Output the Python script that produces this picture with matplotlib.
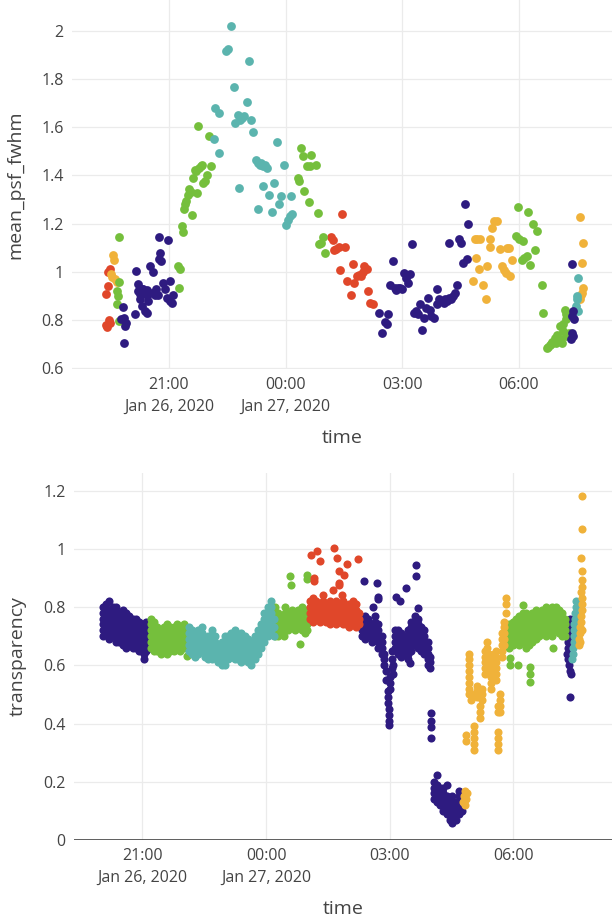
import numpy as np
import pandas as pd
import matplotlib
matplotlib.use("Agg")
import matplotlib.pyplot as plt

plt.rcParams['font.family'] = ['Open Sans', 'DejaVu Sans']

# colours of the five groups
indigo = "#2e1b80"
green = "#75bf3c"
teal = "#5bb4ae"
red = "#e0472a"
orange = "#f0b23a"

# ---- top panel: mean_psf_fwhm, time = hours after Jan 26 2020 00:00 ----
fw_red_t = [19.39, 19.43, 19.44, 19.48, 19.38, 19.42, 19.46, 19.50,
            25.17, 25.21, 25.24, 25.29, 25.37, 25.39, 25.46, 25.52, 25.59, 25.67, 25.74,
            25.77, 25.84, 25.89, 25.94, 25.99, 26.02, 26.09, 26.12, 26.18, 26.25]
fw_red_v = [0.91, 0.94, 1.00, 1.01, 0.78, 0.77, 0.80, 0.79,
            1.145, 1.134, 1.09, 1.093, 1.104, 1.006, 1.24, 1.104, 0.962, 0.906, 1.031,
            0.952, 0.985, 0.989, 0.982, 0.999, 1.024, 1.013, 0.92, 0.869, 0.865]

fw_orange_t = [19.56, 19.59, 19.54, 19.61, 19.66, 19.51,
               28.81, 28.86, 28.93, 29.01, 28.89, 28.96, 29.08, 29.14, 29.19, 29.26, 29.31,
               29.36, 29.43, 29.26, 29.51, 29.56, 29.61, 29.66, 29.69, 29.74, 29.76, 29.81,
               31.58, 31.65, 31.63, 31.64, 31.62, 31.57, 31.60]
fw_orange_v = [1.07, 1.05, 0.98, 0.97, 0.96, 0.99,
               0.962, 1.137, 1.137, 1.137, 1.058, 1.01, 0.944, 0.889, 1.024, 1.137, 1.183,
               1.21, 1.21, 1.104, 1.093, 1.024, 1.007, 0.996, 1.10, 1.10, 0.985, 1.051,
               1.227, 1.12, 1.038, 0.934, 0.913, 0.886, 0.906]

fw_green_t = [19.71, 19.73, 19.68, 19.70, 19.66, 19.73,
              21.27, 21.24, 21.29, 21.34, 21.37, 21.40, 21.42, 21.45, 21.49, 21.52, 21.57,
              21.60, 21.62, 21.67, 21.72, 21.77, 21.82, 21.85, 21.87, 21.92, 21.97, 22.03,
              22.08, 21.74, 21.70,
              24.31, 24.34, 24.39, 24.44, 24.47, 24.54, 24.59, 24.62, 24.66, 24.79, 24.84,
              24.87, 24.91, 24.97, 25.01,
              29.93, 29.98, 30.01, 30.10, 30.07, 30.14, 30.20, 30.24, 30.28, 30.35, 30.41,
              30.47, 30.58, 30.62, 30.71, 30.79, 30.86, 30.92, 30.98, 31.05, 31.12, 31.18,
              31.22, 31.22, 31.14, 31.22, 31.29, 31.05, 30.96, 31.10, 30.75, 30.83]
fw_green_v = [1.145, 0.957, 0.92, 0.90, 0.865, 0.795,
              0.934, 1.024, 1.013, 1.19, 1.166, 1.261, 1.283, 1.293, 1.317, 1.344, 1.33,
              1.238, 1.39, 1.424, 1.328, 1.431, 1.438, 1.445, 1.369, 1.376, 1.403, 1.565,
              1.438, 1.604, 1.42,
              1.39, 1.376, 1.514, 1.48, 1.334, 1.438, 1.289, 1.438, 1.486, 1.442, 1.245,
              1.114, 1.12, 1.145, 1.079,
              1.148, 1.27, 1.137, 1.13, 1.05, 1.058, 1.065, 1.25, 1.027, 1.20, 1.09,
              1.169, 0.944, 0.828, 0.686, 0.695, 0.709, 0.727, 0.737, 0.775, 0.783, 0.844,
              0.824, 0.803, 0.754, 0.733, 0.745, 0.72, 0.707, 0.706, 0.69, 0.70]

fw_teal_t = [22.15, 22.28, 22.18, 22.28, 22.48, 22.53, 22.60, 22.68, 22.71, 22.78, 22.83,
             22.88, 22.93, 23.00, 23.05, 23.11, 23.16, 22.81, 23.23, 23.28, 23.33, 23.38,
             23.43, 23.48, 23.53, 23.30, 23.41, 23.58, 23.65, 23.71, 23.78, 23.83, 23.88,
             23.95, 24.02, 24.06, 24.11, 24.17, 24.14,
             31.52, 31.48, 31.50, 31.47, 31.52]
fw_teal_v = [1.55, 1.493, 1.68, 1.66, 1.918, 1.925, 2.022, 1.767, 1.617, 1.652, 1.63,
             1.638, 1.645, 1.703, 1.873, 1.631, 1.579, 1.348, 1.466, 1.45, 1.445, 1.452,
             1.438, 1.445, 1.431, 1.259, 1.355, 1.32, 1.25, 1.37, 1.537, 1.28, 1.315,
             1.442, 1.196, 1.217, 1.23, 1.24, 1.315,
             0.973, 0.90, 0.886, 0.858, 0.837]

fw_indigo_t = [20.74, 20.98, 20.77, 20.74, 20.81, 20.51, 20.60, 20.15, 20.21, 20.34, 20.30,
               20.43, 20.56, 20.67, 20.73, 20.85, 20.90, 21.04, 21.11, 20.96, 21.04, 21.09,
               20.25, 20.30, 20.43, 20.38, 20.13, 19.83, 19.85, 19.89, 19.87, 19.78, 19.85,
               20.47, 20.64, 20.20, 20.25, 20.45,
               26.40, 26.48, 26.55, 26.60, 26.63, 26.75, 26.68, 26.80, 26.85, 26.90, 26.95,
               27.00, 27.05, 27.10, 27.15, 27.20, 27.25, 27.30, 27.35, 27.40, 27.45, 27.50,
               27.55, 27.60, 27.65, 27.70, 27.75, 27.82, 27.88, 27.90, 27.95, 28.00, 28.06,
               28.11, 28.16, 28.21, 28.26, 28.31, 28.36, 28.41, 28.21, 28.46, 28.51, 28.56,
               28.61, 28.66, 28.69,
               31.35, 31.38, 31.35, 31.35, 31.38, 31.34, 31.42]
fw_indigo_v = [1.144, 1.131, 1.079, 1.054, 1.044, 1.026, 1.00, 1.003, 0.95, 0.927, 0.93,
               0.924, 0.913, 0.927, 0.906, 0.952, 0.93, 0.964, 0.906, 0.893, 0.879, 0.869,
               0.886, 0.858, 0.831, 0.837, 0.824, 0.854, 0.81, 0.789, 0.775, 0.803, 0.704,
               0.879, 0.906, 0.92, 0.91, 0.905,
               0.828, 0.748, 0.792, 0.782, 0.824, 1.045, 0.944, 0.934, 0.924, 0.934, 0.934,
               0.927, 0.996, 0.976, 0.955, 0.993, 1.114, 0.83, 0.837, 0.824, 0.865, 0.757,
               0.81, 0.851, 0.893, 0.844, 0.817, 0.81, 0.927, 0.865, 0.886, 0.879, 0.872,
               0.886, 0.879, 0.893, 0.886, 0.90, 0.913, 0.944, 1.12, 1.137, 1.12, 1.038,
               1.28, 1.054, 1.20,
               1.031, 0.837, 0.817, 0.748, 0.734, 0.72, 0.806]

# ---- bottom panel: transparency, read column by column as (hour, [values]) ----
tr_indigo = [
    (20.05, [0.70, 0.72, 0.74, 0.76, 0.78, 0.80]),
    (20.12, [0.71, 0.73, 0.75, 0.77, 0.79, 0.81]),
    (20.20, [0.69, 0.71, 0.73, 0.75, 0.77, 0.79, 0.82]),
    (20.28, [0.70, 0.72, 0.74, 0.76, 0.78, 0.80]),
    (20.36, [0.68, 0.70, 0.72, 0.74, 0.76, 0.78, 0.80]),
    (20.44, [0.68, 0.70, 0.72, 0.74, 0.76, 0.78]),
    (20.52, [0.67, 0.69, 0.71, 0.73, 0.75, 0.77, 0.79]),
    (20.60, [0.66, 0.68, 0.70, 0.72, 0.74, 0.76, 0.78]),
    (20.68, [0.67, 0.69, 0.71, 0.73, 0.75, 0.77]),
    (20.76, [0.66, 0.68, 0.70, 0.72, 0.74, 0.76]),
    (20.84, [0.66, 0.68, 0.70, 0.72, 0.74, 0.76]),
    (20.92, [0.65, 0.67, 0.69, 0.71, 0.73, 0.75]),
    (21.00, [0.66, 0.68, 0.70, 0.72, 0.74]),
    (21.05, [0.62, 0.64]),
    (21.08, [0.65, 0.67, 0.69, 0.71, 0.73, 0.75]),
    (21.15, [0.66, 0.68, 0.70, 0.72, 0.74]),
    (26.32, [0.70, 0.72, 0.74, 0.76]),
    (26.38, [0.888]),
    (26.40, [0.69, 0.71, 0.73, 0.75, 0.77]),
    (26.48, [0.70, 0.72, 0.74, 0.76]),
    (26.56, [0.68, 0.70, 0.72, 0.74]),
    (26.60, [0.80]),
    (26.64, [0.69, 0.71, 0.73, 0.75, 0.77]),
    (26.68, [0.882]),
    (26.71, [0.827, 0.836]),
    (26.72, [0.66, 0.68, 0.70, 0.72, 0.74]),
    (26.80, [0.64, 0.66, 0.68, 0.70]),
    (26.86, [0.60, 0.62, 0.64]),
    (26.92, [0.55, 0.58]),
    (26.95, [0.47, 0.49, 0.51]),
    (26.98, [0.395, 0.41, 0.43, 0.45]),
    (27.01, [0.52, 0.54, 0.56]),
    (27.05, [0.59, 0.62, 0.65]),
    (27.09, [0.57, 0.60]),
    (27.12, [0.66, 0.68, 0.70, 0.72]),
    (27.16, [0.836]),
    (27.20, [0.64, 0.66, 0.68, 0.70, 0.72]),
    (27.25, [0.819]),
    (27.28, [0.63, 0.65, 0.67, 0.69, 0.71]),
    (27.36, [0.64, 0.66, 0.68, 0.70]),
    (27.39, [0.865]),
    (27.44, [0.62, 0.64, 0.66, 0.68, 0.70, 0.72]),
    (27.49, [0.607]),
    (27.52, [0.65, 0.67, 0.69, 0.71, 0.73, 0.75]),
    (27.60, [0.67, 0.69, 0.71, 0.73, 0.75, 0.77]),
    (27.63, [0.905, 0.945]),
    (27.68, [0.66, 0.68, 0.70, 0.72, 0.74, 0.76, 0.796]),
    (27.76, [0.65, 0.67, 0.69, 0.71, 0.73]),
    (27.84, [0.64, 0.66, 0.68, 0.70, 0.72]),
    (27.92, [0.60, 0.62, 0.64, 0.66, 0.68]),
    (27.98, [0.59, 0.61, 0.63]),
    (28.01, [0.349, 0.389, 0.41, 0.435]),
    (28.08, [0.14, 0.16, 0.18, 0.20]),
    (28.15, [0.13, 0.15, 0.17, 0.19, 0.223]),
    (28.22, [0.12, 0.14, 0.16, 0.18]),
    (28.30, [0.10, 0.12, 0.14, 0.16, 0.18]),
    (28.38, [0.09, 0.11, 0.13, 0.15, 0.19]),
    (28.46, [0.07, 0.09, 0.11, 0.13]),
    (28.52, [0.06, 0.08, 0.10, 0.12, 0.15]),
    (28.60, [0.07, 0.09, 0.11, 0.13]),
    (28.68, [0.09, 0.11, 0.13, 0.15, 0.17]),
    (28.74, [0.10, 0.12, 0.14]),
    (31.30, [0.64]),
    (31.32, [0.62, 0.66, 0.68]),
    (31.34, [0.60, 0.70, 0.72]),
    (31.36, [0.74, 0.76]),
    (31.38, [0.49, 0.58]),
    (31.40, [0.57]),
]

tr_green = [
    (21.20, [0.66, 0.68, 0.70, 0.72, 0.74, 0.76]),
    (21.28, [0.65, 0.67, 0.69, 0.71, 0.73, 0.75]),
    (21.36, [0.65, 0.67, 0.69, 0.71, 0.73]),
    (21.44, [0.64, 0.66, 0.68, 0.70, 0.72]),
    (21.52, [0.65, 0.67, 0.69, 0.71, 0.73]),
    (21.60, [0.64, 0.66, 0.68, 0.70, 0.72, 0.74]),
    (21.68, [0.65, 0.67, 0.69, 0.71, 0.73]),
    (21.76, [0.65, 0.67, 0.69, 0.71, 0.73]),
    (21.84, [0.66, 0.68, 0.70, 0.72, 0.74]),
    (21.92, [0.65, 0.67, 0.69, 0.71, 0.73]),
    (22.00, [0.66, 0.68, 0.70, 0.72, 0.74]),
    (22.07, [0.632, 0.67, 0.69, 0.71]),
    (24.22, [0.70, 0.72, 0.74, 0.76, 0.78, 0.80]),
    (24.30, [0.70, 0.72, 0.74, 0.76, 0.78]),
    (24.38, [0.71, 0.73, 0.75, 0.77]),
    (24.44, [0.70]),
    (24.46, [0.72, 0.74, 0.76, 0.78, 0.80]),
    (24.54, [0.72, 0.74, 0.76, 0.78]),
    (24.58, [0.905]),
    (24.60, [0.876]),
    (24.62, [0.73, 0.75, 0.77, 0.79]),
    (24.70, [0.72, 0.74, 0.76, 0.78]),
    (24.78, [0.73, 0.75, 0.77, 0.79]),
    (24.82, [0.674]),
    (24.86, [0.72, 0.74, 0.76, 0.78, 0.80]),
    (24.94, [0.71, 0.73, 0.75, 0.77, 0.79]),
    (24.95, [0.72]),
    (24.99, [0.896, 0.91]),
    (25.00, [0.72, 0.74, 0.76]),
    (29.90, [0.66, 0.68, 0.70, 0.72, 0.74]),
    (29.92, [0.60, 0.625]),
    (29.98, [0.67, 0.69, 0.71, 0.73, 0.75]),
    (30.06, [0.68, 0.70, 0.72, 0.74, 0.76]),
    (30.12, [0.60]),
    (30.14, [0.67, 0.69, 0.71, 0.73, 0.75, 0.77]),
    (30.22, [0.68, 0.70, 0.72, 0.74, 0.76, 0.78]),
    (30.23, [0.808]),
    (30.30, [0.66, 0.68, 0.70, 0.72, 0.74, 0.78]),
    (30.38, [0.67, 0.69, 0.71, 0.73, 0.75, 0.77]),
    (30.40, [0.544, 0.57, 0.595]),
    (30.46, [0.68, 0.70, 0.72, 0.74, 0.76, 0.78]),
    (30.54, [0.69, 0.71, 0.73, 0.75, 0.77, 0.79]),
    (30.62, [0.70, 0.72, 0.74, 0.76, 0.78]),
    (30.70, [0.71, 0.73, 0.75, 0.77, 0.79]),
    (30.78, [0.70, 0.72, 0.74, 0.76, 0.78, 0.80]),
    (30.86, [0.71, 0.73, 0.75, 0.77, 0.79]),
    (30.94, [0.70, 0.72, 0.74, 0.76, 0.78, 0.80]),
    (30.97, [0.659]),
    (31.02, [0.72, 0.74, 0.76, 0.78, 0.80]),
    (31.10, [0.71, 0.73, 0.75, 0.77, 0.79]),
    (31.18, [0.70, 0.72, 0.74, 0.76, 0.78]),
    (31.26, [0.70, 0.72, 0.74, 0.76]),
]

tr_teal = [
    (22.12, [0.65, 0.67, 0.69, 0.71, 0.73]),
    (22.20, [0.64, 0.66, 0.68, 0.70, 0.72]),
    (22.28, [0.63, 0.65, 0.67, 0.69, 0.71]),
    (22.36, [0.64, 0.66, 0.68, 0.70, 0.72]),
    (22.44, [0.65, 0.67, 0.69, 0.71, 0.73]),
    (22.52, [0.63, 0.65, 0.67, 0.69]),
    (22.60, [0.62, 0.64, 0.66, 0.68, 0.70]),
    (22.68, [0.62, 0.64, 0.66, 0.68, 0.70, 0.72]),
    (22.76, [0.64, 0.66, 0.68, 0.70]),
    (22.84, [0.61, 0.63, 0.65, 0.67]),
    (22.92, [0.60, 0.62, 0.64, 0.66, 0.68]),
    (23.00, [0.60, 0.62, 0.64, 0.66, 0.68, 0.70]),
    (23.08, [0.62, 0.64, 0.66, 0.68, 0.70]),
    (23.16, [0.63, 0.65, 0.67, 0.69, 0.71]),
    (23.24, [0.62, 0.64, 0.66, 0.68, 0.70, 0.72]),
    (23.32, [0.62, 0.64, 0.66, 0.68]),
    (23.40, [0.61, 0.63, 0.65, 0.67, 0.69, 0.71]),
    (23.48, [0.62, 0.64, 0.66, 0.68, 0.70]),
    (23.56, [0.61, 0.63, 0.65, 0.67, 0.69]),
    (23.64, [0.60, 0.62, 0.64, 0.66, 0.68]),
    (23.72, [0.62, 0.64, 0.66, 0.68, 0.70]),
    (23.80, [0.64, 0.66, 0.68, 0.70, 0.72]),
    (23.88, [0.66, 0.68, 0.70, 0.72, 0.74]),
    (23.96, [0.68, 0.70, 0.72, 0.74, 0.76, 0.78]),
    (24.04, [0.70, 0.72, 0.74, 0.76, 0.78, 0.80]),
    (24.12, [0.72, 0.74, 0.76, 0.78, 0.80, 0.82]),
    (24.18, [0.70, 0.73, 0.76]),
    (31.42, [0.62]),
    (31.44, [0.64, 0.66]),
    (31.46, [0.68, 0.70]),
    (31.48, [0.72, 0.74]),
    (31.50, [0.76, 0.78]),
    (31.52, [0.80, 0.82]),
]

tr_red = [
    (25.06, [0.76, 0.78, 0.80, 0.82]),
    (25.10, [0.979]),
    (25.14, [0.75, 0.77, 0.79, 0.81, 0.83]),
    (25.17, [0.888, 0.899]),
    (25.22, [0.76, 0.78, 0.80, 0.82]),
    (25.24, [0.994]),
    (25.30, [0.75, 0.77, 0.79, 0.81]),
    (25.31, [0.959]),
    (25.38, [0.76, 0.78, 0.80, 0.82, 0.84]),
    (25.46, [0.75, 0.77, 0.79, 0.81]),
    (25.54, [0.74, 0.76, 0.78, 0.80, 0.82]),
    (25.62, [0.75, 0.77, 0.79, 0.81]),
    (25.63, [0.857]),
    (25.65, [1.002]),
    (25.70, [0.74, 0.76, 0.78, 0.80, 0.82]),
    (25.71, [0.968]),
    (25.78, [0.75, 0.77, 0.79, 0.81, 0.876, 0.882, 0.922]),
    (25.83, [0.842]),
    (25.86, [0.74, 0.76, 0.78, 0.80, 0.82]),
    (25.89, [0.911]),
    (25.94, [0.74, 0.76, 0.78, 0.80]),
    (25.97, [0.947]),
    (26.02, [0.73, 0.75, 0.77, 0.79, 0.81]),
    (26.10, [0.74, 0.76, 0.78, 0.80, 0.82]),
    (26.18, [0.73, 0.75, 0.77, 0.79, 0.81]),
    (26.22, [0.964]),
    (26.25, [0.74, 0.76, 0.78]),
]

tr_orange = [
    (28.78, [0.13]),
    (28.80, [0.15]),
    (28.82, [0.12, 0.17]),
    (28.85, [0.14]),
    (28.86, [0.34, 0.36]),
    (28.87, [0.16]),
    (28.92, [0.50, 0.52, 0.54, 0.56, 0.58, 0.60, 0.62, 0.64]),
    (28.98, [0.48, 0.50]),
    (29.04, [0.31, 0.33, 0.35, 0.37, 0.39]),
    (29.12, [0.49, 0.51, 0.53]),
    (29.18, [0.42, 0.44, 0.46]),
    (29.24, [0.48, 0.50, 0.52]),
    (29.30, [0.57, 0.59, 0.61, 0.63, 0.65]),
    (29.35, [0.60, 0.62, 0.64, 0.66, 0.68]),
    (29.40, [0.58, 0.60, 0.62, 0.64]),
    (29.46, [0.52, 0.54, 0.56, 0.58, 0.60]),
    (29.52, [0.56, 0.58, 0.60, 0.62, 0.64]),
    (29.57, [0.55, 0.57, 0.59, 0.61, 0.63, 0.65]),
    (29.62, [0.31, 0.33, 0.35, 0.37, 0.44, 0.46]),
    (29.67, [0.44, 0.46, 0.48, 0.50]),
    (29.72, [0.63, 0.65, 0.67, 0.69, 0.71]),
    (29.77, [0.67, 0.69, 0.71, 0.73, 0.75]),
    (29.82, [0.78, 0.81, 0.83]),
    (31.58, [0.67]),
    (31.60, [0.69]),
    (31.62, [0.68, 0.71, 0.73]),
    (31.64, [0.75, 0.77, 0.85]),
    (31.66, [0.72, 0.79, 0.81, 0.83, 0.87, 0.894, 0.922, 1.068, 1.182]),
    (31.65, [0.968]),
]

# x ticks (hours after Jan 26 00:00)
tick_hours = [21, 24, 27, 30]
tick_labels = ["21:00\nJan 26, 2020", "00:00\nJan 27, 2020", "03:00", "06:00"]

base = pd.Timestamp("2020-01-26")


def to_time(hours):
    return (base + pd.to_timedelta(np.asarray(hours, dtype=float), unit="h")).to_pydatetime()


def expand(cols):
    t, v = [], []
    for h, vals in cols:
        t += [h] * len(vals)
        v += list(vals)
    return t, v


def style(ax, x0, x1, y0, y1, yticks):
    ax.set_xlim(to_time([x0])[0], to_time([x1])[0])
    ax.set_ylim(y0, y1)
    ax.set_xticks(to_time(tick_hours))
    ax.set_xticklabels(tick_labels, linespacing=1.45)
    ax.set_yticks(yticks)
    ax.set_yticklabels(["%g" % t for t in yticks])
    ax.grid(True, color="#ebebeb", linewidth=0.9)
    ax.set_axisbelow(True)
    for s in ax.spines.values():
        s.set_visible(False)
    ax.tick_params(length=0, labelsize=11.5, colors="#444444", pad=6)


fig = plt.figure(figsize=(6.12, 9.21), dpi=100)

# top panel
ax1 = fig.add_axes([0.1176, 0.5993, 0.8824, 0.4007])
for t, v, c in [(fw_red_t, fw_red_v, red), (fw_orange_t, fw_orange_v, orange),
                (fw_green_t, fw_green_v, green), (fw_teal_t, fw_teal_v, teal),
                (fw_indigo_t, fw_indigo_v, indigo)]:
    ax1.scatter(to_time(t), v, s=40, color=c, linewidths=0, zorder=3)
style(ax1, 18.51, 32.39, 0.597, 2.128, [0.6, 0.8, 1, 1.2, 1.4, 1.6, 1.8, 2])
ax1.set_xlabel("time", fontsize=14, color="#444444", labelpad=10)
ax1.set_ylabel("mean_psf_fwhm", fontsize=14, color="#444444", labelpad=12)

# bottom panel
ax2 = fig.add_axes([0.1209, 0.0879, 0.8791, 0.3985])
for cols, c in [(tr_indigo, indigo), (tr_green, green), (tr_teal, teal),
                (tr_red, red), (tr_orange, orange)]:
    t, v = expand(cols)
    ax2.scatter(to_time(t), v, s=34, color=c, linewidths=0, zorder=3)
style(ax2, 19.34, 32.39, 0, 1.26, [0, 0.2, 0.4, 0.6, 0.8, 1, 1.2])
ax2.axhline(0, color="#444444", linewidth=1.2, zorder=2)
ax2.set_xlabel("time", fontsize=14, color="#444444", labelpad=10)
ax2.set_ylabel("transparency", fontsize=14, color="#444444", labelpad=12)

fig.savefig("out.png", dpi=100)
